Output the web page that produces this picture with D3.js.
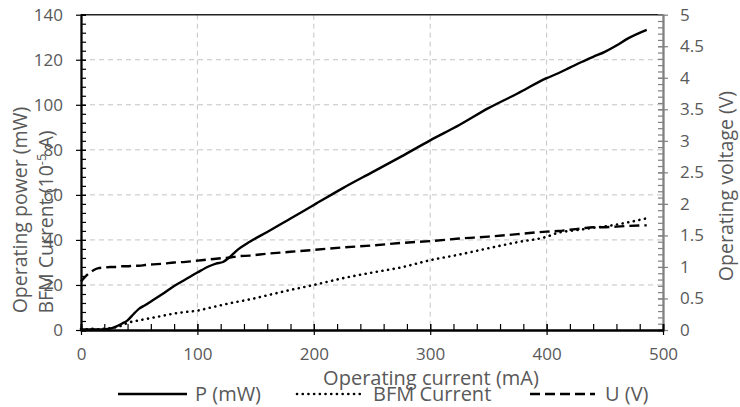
<!DOCTYPE html>
<html><head><meta charset="utf-8">
<script src="https://cdn.jsdelivr.net/npm/d3@7"></script>
<style>body{margin:0;background:#fff}svg{display:block;font-family:"Open Sans",sans-serif}</style>
</head><body><svg width="740" height="407"></svg>
<script>
const current = [0,5,10,15,20,25,30,35,40,45,50,55,62,70,80,90,100,110,116,122,128,135,145,160,180,200,225,250,275,300,325,350,375,400,410,420,430,440,450,460,470,486];
const powerP = [0.3,0.2,0.3,0.2,0.3,0.6,1.5,2.8,4.3,7,9.5,11,13.3,16,19.5,22.5,25.5,28.3,29.5,30.2,32.5,35.8,39.2,43.5,49.5,55.5,63,70,77,84.2,91,98.5,105,111.8,114,116.5,119,121.3,123.5,126.3,129.5,133.3];
const bfmCurrent = [0.5,0.3,0.5,0.3,0.6,0.8,1.2,2,3.2,3.8,4.3,4.8,5.5,6.3,7.3,8,8.6,9.8,10.5,11.2,11.9,12.6,13.6,15.4,17.8,20,23,25.5,27.8,31,33.5,36.3,39,41.4,43.2,44,44.6,45.4,46,46.8,47.8,49.6];
const voltageU = [0.77,0.87,0.94,0.98,0.99,1.0,1.0,1.01,1.01,1.02,1.02,1.03,1.04,1.05,1.07,1.08,1.1,1.12,1.13,1.14,1.15,1.17,1.18,1.21,1.24,1.27,1.31,1.34,1.38,1.41,1.45,1.48,1.52,1.56,1.57,1.59,1.61,1.63,1.63,1.64,1.65,1.66];
const xTicks = [0,100,200,300,400,500];
const yLeftTicks = [0,20,40,60,80,100,120,140];
const yRightTicks = [0,0.5,1,1.5,2,2.5,3,3.5,4,4.5,5];
const legendLabels = ["P (mW)","BFM Current","U (V)"];

const svg = d3.select("svg");
const L = 81, R = 663, T = 14.7, B = 330;
const x = d3.scaleLinear().domain([0,500]).range([L,R]);
const yL = d3.scaleLinear().domain([0,140]).range([B,T]);
const yR = d3.scaleLinear().domain([0,5]).range([B,T]);
const textCol = "#595959";

// gridlines
const grid = svg.append("g").attr("stroke","#c4c4c4").attr("stroke-width",1).attr("stroke-dasharray","5,4");
grid.selectAll(".h").data(yLeftTicks.filter(d=>d>0&&d<140)).join("line")
  .attr("x1",L).attr("x2",R).attr("y1",d=>yL(d)).attr("y2",d=>yL(d));
grid.selectAll(".v").data(xTicks.filter(d=>d>0&&d<500)).join("line")
  .attr("y1",T).attr("y2",B).attr("x1",d=>x(d)).attr("x2",d=>x(d));

// top border
svg.append("line").attr("x1",L).attr("x2",R).attr("y1",T).attr("y2",T).attr("stroke","#222").attr("stroke-width",1.5);

function styleAxis(g, col){
  g.select(".domain").attr("stroke",col).attr("stroke-width",1.8);
  g.selectAll(".tick line").attr("stroke",col).attr("stroke-width",1.2);
  g.selectAll("text").attr("fill",textCol).attr("font-size",17).attr("font-family","Open Sans, sans-serif");
}

// left minor
const gLm = svg.append("g").attr("transform",`translate(${L},0)`)
  .call(d3.axisLeft(yL).tickValues(d3.range(0,141,4)).tickSize(-5).tickFormat(""));
styleAxis(gLm,"#000");
const gL = svg.append("g").attr("transform",`translate(${L},0)`)
  .call(d3.axisLeft(yL).tickValues(yLeftTicks).tickSize(5).tickPadding(13).tickSizeOuter(0));
styleAxis(gL,"#000");
gL.selectAll(".tick line").attr("x1",5);

// right axis
const gRm = svg.append("g").attr("transform",`translate(${R},0)`)
  .call(d3.axisRight(yR).tickValues(d3.range(0,51,1).map(d=>d/10)).tickSize(-5).tickFormat(""));
styleAxis(gRm,"#808080");
const gR = svg.append("g").attr("transform",`translate(${R},0)`)
  .call(d3.axisRight(yR).tickValues(yRightTicks).tickSize(5).tickPadding(12).tickSizeOuter(0).tickFormat(d3.format("")));
styleAxis(gR,"#808080");
gR.selectAll(".tick line").attr("x1",-5);

// x axis
const gXm = svg.append("g").attr("transform",`translate(0,${B})`)
  .call(d3.axisBottom(x).tickValues(d3.range(0,501,20)).tickSize(-6).tickFormat(""));
styleAxis(gXm,"#000");
const gX = svg.append("g").attr("transform",`translate(0,${B})`)
  .call(d3.axisBottom(x).tickValues(xTicks).tickSize(5).tickPadding(13).tickSizeOuter(0));
styleAxis(gX,"#000");
gX.selectAll(".tick line").attr("y1",-6);

// series
const data = current.map((c,i)=>({c,p:powerP[i],b:bfmCurrent[i],u:voltageU[i]}));
const lineP = d3.line().x(d=>x(d.c)).y(d=>yL(d.p)).curve(d3.curveMonotoneX);
const lineB = d3.line().x(d=>x(d.c)).y(d=>yL(d.b)).curve(d3.curveMonotoneX);
const lineU = d3.line().x(d=>x(d.c)).y(d=>yR(d.u)).curve(d3.curveMonotoneX);
const styles = [
  {dash:null, cap:"butt"},
  {dash:"0.1,5.6", cap:"round"},
  {dash:"10,5", cap:"butt"}
];
svg.append("path").datum(data).attr("d",lineU).attr("fill","none").attr("stroke","#000").attr("stroke-width",2.4).attr("stroke-dasharray",styles[2].dash);
svg.append("path").datum(data).attr("d",lineB).attr("fill","none").attr("stroke","#000").attr("stroke-width",2.6).attr("stroke-dasharray",styles[1].dash).attr("stroke-linecap","round");
svg.append("path").datum(data).attr("d",lineP).attr("fill","none").attr("stroke","#000").attr("stroke-width",2.4);

// axis titles
const tSize = 20;
svg.append("text").attr("transform","translate(27,210) rotate(-90)").attr("text-anchor","middle")
  .attr("fill",textCol).attr("font-size",19.5).text("Operating power (mW)");
const bt = svg.append("text").attr("transform","translate(53,222) rotate(-90)").attr("text-anchor","middle")
  .attr("fill",textCol).attr("font-size",19.5);
bt.append("tspan").text("BFM Current (10");
bt.append("tspan").attr("dy",-7).attr("font-size",13).text("-5");
bt.append("tspan").attr("dy",7).text(" A)");
svg.append("text").attr("transform","translate(733,186) rotate(-90)").attr("text-anchor","middle")
  .attr("fill",textCol).attr("font-size",19.5).text("Operating voltage (V)");
svg.append("text").attr("x",431).attr("y",385).attr("text-anchor","middle")
  .attr("fill",textCol).attr("font-size",tSize).text("Operating current (mA)");

// legend
const legX = [[118,187,195],[297,362,373],[530,595,605]];
legendLabels.forEach((lab,i)=>{
  const ln = svg.append("line").attr("x1",legX[i][0]).attr("x2",legX[i][1]).attr("y1",394).attr("y2",394)
    .attr("stroke","#000").attr("stroke-width",i===1?2.6:2.4).attr("stroke-linecap",styles[i].cap);
  if(styles[i].dash) ln.attr("stroke-dasharray",styles[i].dash);
  svg.append("text").attr("x",legX[i][2]).attr("y",401).attr("fill",textCol).attr("font-size",tSize).text(lab);
});
</script></body></html>
